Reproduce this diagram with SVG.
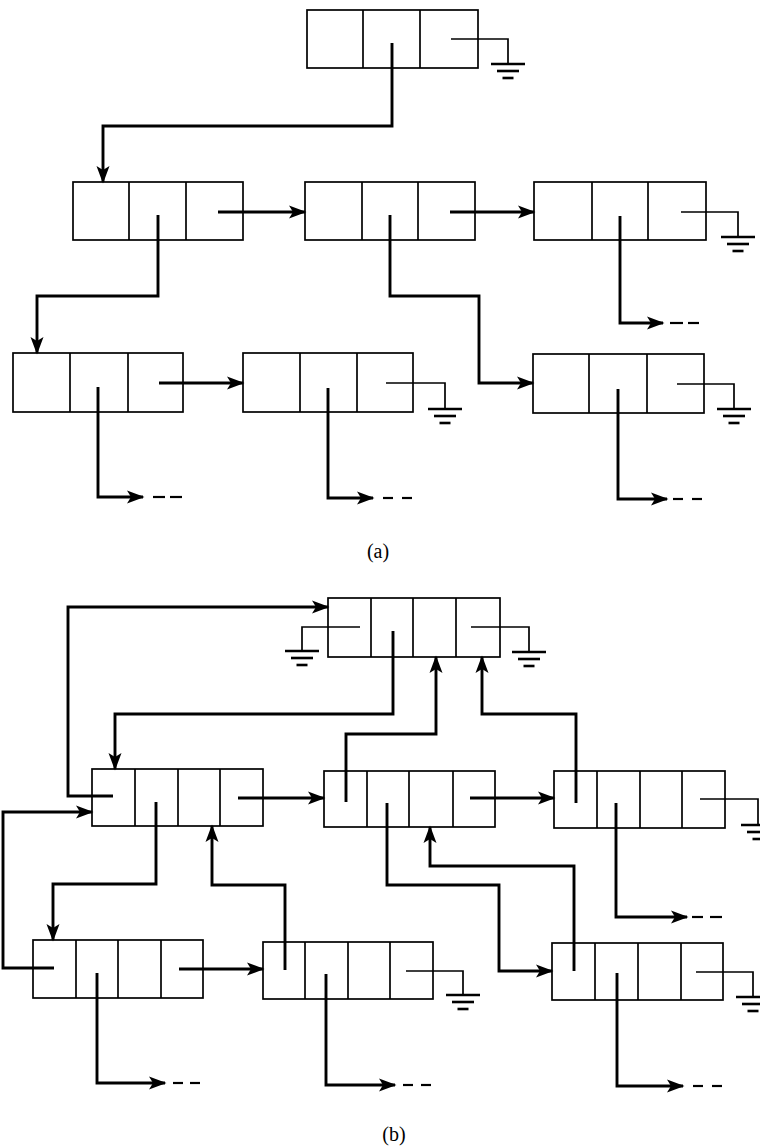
<svg xmlns="http://www.w3.org/2000/svg" width="760" height="1148" viewBox="0 0 760 1148">
<style>
.box{fill:none;stroke:#000;stroke-width:1.7}
.ptr{fill:none;stroke:#000;stroke-width:2.9;stroke-linejoin:miter}
.arr{marker-end:url(#ah)}
.nil{fill:none;stroke:#000;stroke-width:1.7}
.gnd{stroke:#000;stroke-width:2.6}
.dash{stroke:#000;stroke-width:2.2}
.lbl{font-family:"Liberation Serif",serif;font-size:20px;text-anchor:middle;fill:#000}
</style>
<defs>
<marker id="ah" markerUnits="userSpaceOnUse" markerWidth="22" markerHeight="16" viewBox="-20 -8 22 16" refX="0" refY="0" orient="auto">
<path d="M1.5,0 L-16,-6.5 L-12,0 L-16,6.5 Z" fill="#000"/>
</marker>
<g id="ground">
<line class="gnd" x1="-17" y1="0" x2="17" y2="0"/>
<line class="gnd" x1="-11" y1="7" x2="11" y2="7"/>
<line class="gnd" x1="-5.5" y1="14" x2="5.5" y2="14"/>
</g>
</defs>
<rect width="760" height="1148" fill="#fff"/>

<!-- (a) nodes -->
<g id="a0"><rect class="box" x="307" y="10" width="171" height="58"/><line class="box" x1="363" y1="10" x2="363" y2="68"/><line class="box" x1="420" y1="10" x2="420" y2="68"/></g>
<g id="a1"><rect class="box" x="73" y="182" width="170" height="58"/><line class="box" x1="129" y1="182" x2="129" y2="240"/><line class="box" x1="186" y1="182" x2="186" y2="240"/></g>
<g id="a2"><rect class="box" x="305" y="182" width="170" height="58"/><line class="box" x1="362" y1="182" x2="362" y2="240"/><line class="box" x1="418" y1="182" x2="418" y2="240"/></g>
<g id="a3"><rect class="box" x="534" y="182" width="172" height="58"/><line class="box" x1="592" y1="182" x2="592" y2="240"/><line class="box" x1="648" y1="182" x2="648" y2="240"/></g>
<g id="a4"><rect class="box" x="13" y="353" width="170" height="59"/><line class="box" x1="70" y1="353" x2="70" y2="412"/><line class="box" x1="128" y1="353" x2="128" y2="412"/></g>
<g id="a5"><rect class="box" x="243" y="353" width="170" height="59"/><line class="box" x1="300" y1="353" x2="300" y2="412"/><line class="box" x1="357" y1="353" x2="357" y2="412"/></g>
<g id="a6"><rect class="box" x="533" y="354" width="171" height="59"/><line class="box" x1="589" y1="354" x2="589" y2="413"/><line class="box" x1="647" y1="354" x2="647" y2="413"/></g>

<!-- (b) nodes -->
<g id="b0"><rect class="box" x="328" y="598" width="172" height="59"/><line class="box" x1="371" y1="598" x2="371" y2="657"/><line class="box" x1="413" y1="598" x2="413" y2="657"/><line class="box" x1="456" y1="598" x2="456" y2="657"/></g>
<g id="b1"><rect class="box" x="92" y="769" width="171" height="57"/><line class="box" x1="135" y1="769" x2="135" y2="826"/><line class="box" x1="178" y1="769" x2="178" y2="826"/><line class="box" x1="220" y1="769" x2="220" y2="826"/></g>
<g id="b2"><rect class="box" x="324" y="771" width="171" height="56"/><line class="box" x1="367" y1="771" x2="367" y2="827"/><line class="box" x1="409" y1="771" x2="409" y2="827"/><line class="box" x1="453" y1="771" x2="453" y2="827"/></g>
<g id="b3"><rect class="box" x="554" y="771" width="171" height="57"/><line class="box" x1="597" y1="771" x2="597" y2="828"/><line class="box" x1="640" y1="771" x2="640" y2="828"/><line class="box" x1="682" y1="771" x2="682" y2="828"/></g>
<g id="b4"><rect class="box" x="33" y="940" width="170" height="58"/><line class="box" x1="76" y1="940" x2="76" y2="998"/><line class="box" x1="118" y1="940" x2="118" y2="998"/><line class="box" x1="161" y1="940" x2="161" y2="998"/></g>
<g id="b5"><rect class="box" x="263" y="942" width="170" height="57"/><line class="box" x1="305" y1="942" x2="305" y2="999"/><line class="box" x1="348" y1="942" x2="348" y2="999"/><line class="box" x1="390" y1="942" x2="390" y2="999"/></g>
<g id="b6"><rect class="box" x="552" y="943" width="171" height="57"/><line class="box" x1="595" y1="943" x2="595" y2="1000"/><line class="box" x1="638" y1="943" x2="638" y2="1000"/><line class="box" x1="681" y1="943" x2="681" y2="1000"/></g>

<g id="connectors">
<!-- (a) -->
<path class="ptr arr" d="M392,43 V126 H103 V182"/>
<path class="nil" d="M451,39 H508 V64"/><use href="#ground" x="508" y="64"/>
<path class="ptr arr" d="M218,212 H305"/>
<path class="ptr arr" d="M450,212 H534"/>
<path class="ptr arr" d="M158,215 V296 H37 V353"/>
<path class="ptr arr" d="M390,215 V296 H479 V383 H533"/>
<path class="nil" d="M681,212 H738 V237"/><use href="#ground" x="738" y="237"/>
<path class="ptr arr" d="M620,216 V323 H663"/>
<line class="dash" x1="670" y1="323" x2="683" y2="323"/><line class="dash" x1="688" y1="323" x2="699" y2="323"/>
<path class="ptr arr" d="M159,383 H243"/>
<path class="ptr arr" d="M98,387 V497 H143"/>
<line class="dash" x1="153" y1="497" x2="165" y2="497"/><line class="dash" x1="170" y1="497" x2="182" y2="497"/>
<path class="nil" d="M386,383 H445 V409"/><use href="#ground" x="445" y="409"/>
<path class="ptr arr" d="M328,388 V498 H373"/>
<line class="dash" x1="383" y1="498" x2="393" y2="498"/><line class="dash" x1="402" y1="498" x2="412" y2="498"/>
<path class="nil" d="M677,384 H734 V409"/><use href="#ground" x="734" y="409"/>
<path class="ptr arr" d="M618,389 V499 H667"/>
<line class="dash" x1="673" y1="499" x2="683" y2="499"/><line class="dash" x1="692" y1="499" x2="702" y2="499"/>

<!-- (b) -->
<path class="ptr arr" d="M113,796 H68 V607 H328"/>
<path class="nil" d="M360,627 H302 V651"/><use href="#ground" x="302" y="651"/>
<path class="ptr arr" d="M393,631 V714 H115 V769"/>
<path class="nil" d="M471,627 H529 V652"/><use href="#ground" x="529" y="652"/>
<path class="ptr arr" d="M346,802 V734 H436 V657"/>
<path class="ptr arr" d="M576,803 V714 H482 V657"/>
<path class="ptr arr" d="M238,798 H324"/>
<path class="ptr arr" d="M470,798 H554"/>
<path class="nil" d="M700,799 H758 V825"/><use href="#ground" x="758" y="825"/>
<path class="ptr arr" d="M156,802 V884 H53 V940"/>
<path class="ptr arr" d="M285,970 V885 H212 V826"/>
<path class="ptr arr" d="M54,968 H3 V812 H92"/>
<path class="ptr arr" d="M387,803 V885 H499 V971 H552"/>
<path class="ptr arr" d="M574,971 V866 H430 V827"/>
<path class="ptr arr" d="M616,803 V917 H687"/>
<line class="dash" x1="692" y1="917" x2="703" y2="917"/><line class="dash" x1="710" y1="917" x2="722" y2="917"/>
<path class="ptr arr" d="M179,969 H263"/>
<path class="ptr arr" d="M97,973 V1083 H165"/>
<line class="dash" x1="173" y1="1083" x2="183" y2="1083"/><line class="dash" x1="190" y1="1083" x2="200" y2="1083"/>
<path class="ptr arr" d="M326,974 V1085 H395"/>
<line class="dash" x1="403" y1="1085" x2="413" y2="1085"/><line class="dash" x1="421" y1="1085" x2="431" y2="1085"/>
<path class="nil" d="M406,971 H463 V995"/><use href="#ground" x="463" y="995"/>
<path class="ptr arr" d="M617,973 V1086 H683"/>
<line class="dash" x1="693" y1="1086" x2="703" y2="1086"/><line class="dash" x1="712" y1="1086" x2="722" y2="1086"/>
<path class="nil" d="M696,972 H753 V997"/><use href="#ground" x="753" y="997"/>
</g>

<text class="lbl" x="378" y="558">(a)</text>
<text class="lbl" x="394" y="1141">(b)</text>
</svg>
